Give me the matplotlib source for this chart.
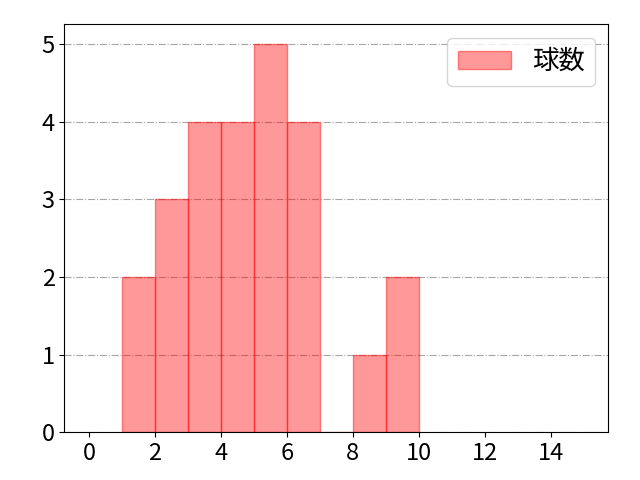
import matplotlib
matplotlib.use("Agg")
import matplotlib.pyplot as plt
import numpy as np

plt.rcParams['font.family'] = ['Noto Sans CJK JP', 'DejaVu Sans']
plt.rcParams['font.size'] = 18

bin_edges = [1, 2, 3, 4, 5, 6, 7, 8, 9, 10]
counts = [2, 3, 4, 4, 5, 4, 0, 1, 2]
label = "球数"
xticks = [0, 2, 4, 6, 8, 10, 12, 14]

fig, ax = plt.subplots(figsize=(6.4, 4.8), dpi=100)
fig.subplots_adjust(left=0.1005, right=0.9505, top=0.949, bottom=0.099)
ax.hist(bin_edges[:-1], bins=bin_edges, weights=counts,
        facecolor=(1, 0, 0, 0.4), edgecolor=(1, 0, 0, 0.45), linewidth=1, label=label)
ax.set_xlim(-0.75, 15.75)
ax.set_ylim(0, 5.25)
ax.set_xticks(xticks)
ax.set_yticks(range(0, 6))
ax.tick_params(labelsize=17)
ax.yaxis.grid(True, linestyle='-.', color='gray', alpha=0.7, linewidth=0.8)
ax.set_axisbelow(True)
ax.legend(loc='upper right', fontsize=19, borderpad=0.4, borderaxespad=0.5)
fig.savefig("out.png")
